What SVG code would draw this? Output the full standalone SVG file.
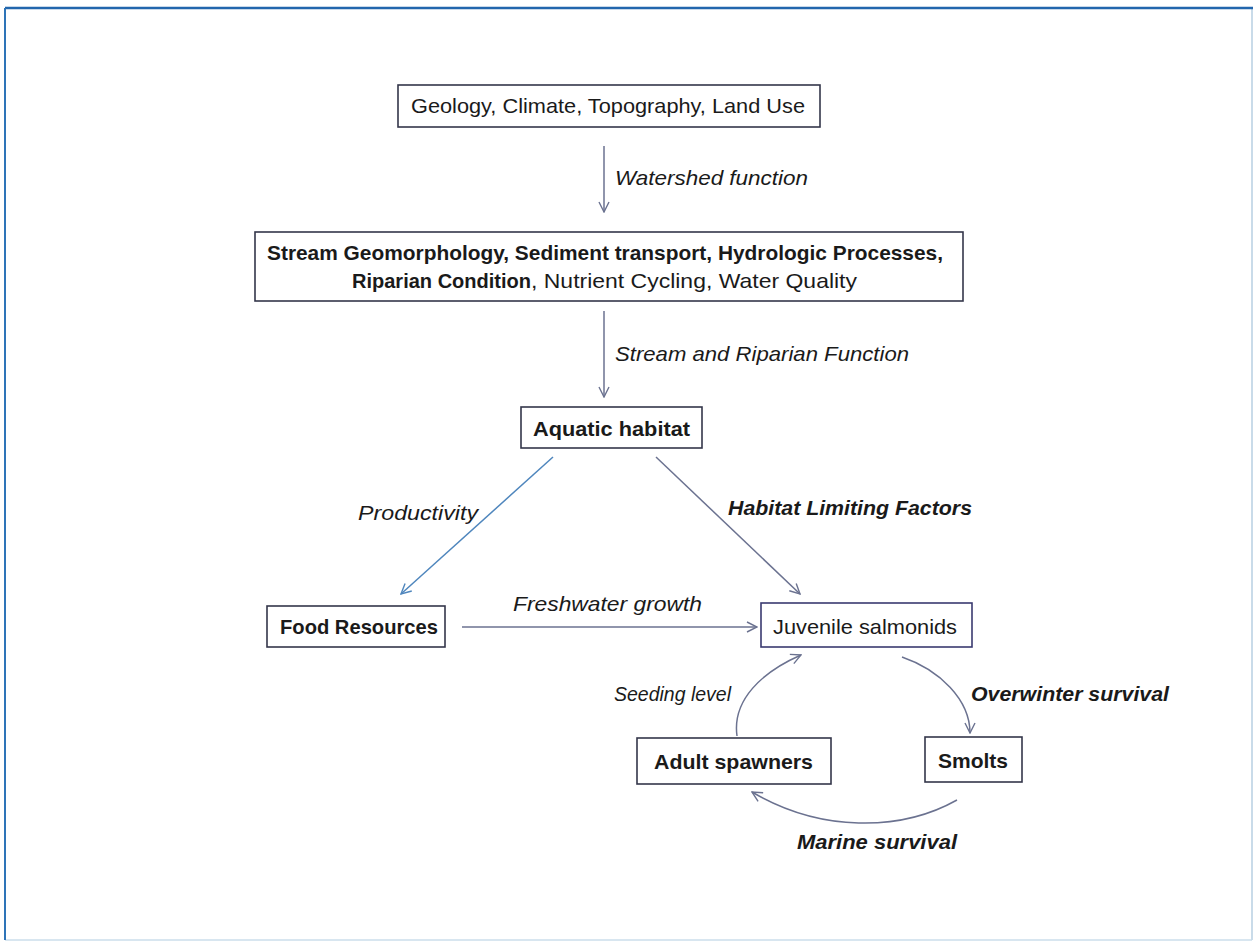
<svg xmlns="http://www.w3.org/2000/svg" width="1255" height="945" viewBox="0 0 1255 945">
<style>
.box{fill:#fff;stroke:#34364a;stroke-width:1.6}
.t{font-family:"Liberation Sans",Arial,sans-serif;font-size:21px;fill:#1a1a1a}
.b{font-weight:bold}
.i{font-style:italic}
.c{fill:none;stroke:#6b7290;stroke-width:1.5}
</style>
<defs>
<marker id="ah" viewBox="0 0 12 12" refX="11" refY="6" markerWidth="12" markerHeight="12" markerUnits="userSpaceOnUse" orient="auto">
<path d="M1,1 L11,6 L1,11" fill="none" stroke="#6b7290" stroke-width="1.4"/>
</marker>
<marker id="ahb" viewBox="0 0 12 12" refX="11" refY="6" markerWidth="12" markerHeight="12" markerUnits="userSpaceOnUse" orient="auto">
<path d="M1,1 L11,6 L1,11" fill="none" stroke="#4f86bd" stroke-width="1.4"/>
</marker>
</defs>
<rect width="1255" height="945" fill="#fff"/>
<g id="frame">
<line x1="5" y1="940" x2="1252" y2="940" stroke="#d8e6f0" stroke-width="2"/>
<line x1="1252" y1="8" x2="1252" y2="940" stroke="#c9dbe9" stroke-width="2"/>
<line x1="5" y1="8" x2="1253" y2="8" stroke="#2266ad" stroke-width="2.5"/>
<line x1="5" y1="8" x2="5" y2="940" stroke="#2e74b8" stroke-width="2"/>
</g>
<g id="connectors">
<line class="c" x1="604" y1="146" x2="604" y2="212" marker-end="url(#ah)"/>
<line class="c" x1="604" y1="311" x2="604" y2="397" marker-end="url(#ah)"/>
<line class="c" x1="553" y1="457" x2="401" y2="594" style="stroke:#4f86bd" marker-end="url(#ahb)"/>
<line class="c" x1="656" y1="457" x2="800" y2="594" marker-end="url(#ah)"/>
<line class="c" x1="462" y1="627" x2="757" y2="627" marker-end="url(#ah)"/>
<path class="c" d="M737,736 C732,700 762,672 801,655" marker-end="url(#ah)"/>
<path class="c" d="M902,657 C940,670 970,700 970,733" marker-end="url(#ah)"/>
<path class="c" d="M957,800 C900,832 820,832 752,792" marker-end="url(#ah)"/>
<text class="t i" x="615" y="185" textLength="193" lengthAdjust="spacingAndGlyphs">Watershed function</text>
<text class="t i" x="615" y="361" textLength="294" lengthAdjust="spacingAndGlyphs">Stream and Riparian Function</text>
<text class="t i" x="358" y="520" textLength="120" lengthAdjust="spacingAndGlyphs">Productivity</text>
<text class="t i b" x="728" y="515" textLength="244" lengthAdjust="spacingAndGlyphs">Habitat Limiting Factors</text>
<text class="t i" x="513" y="611" textLength="189" lengthAdjust="spacingAndGlyphs">Freshwater growth</text>
<text class="t i" x="614" y="701" textLength="117" lengthAdjust="spacingAndGlyphs">Seeding level</text>
<text class="t i b" x="971" y="701" textLength="198" lengthAdjust="spacingAndGlyphs">Overwinter survival</text>
<text class="t i b" x="797" y="849" textLength="160" lengthAdjust="spacingAndGlyphs">Marine survival</text>
</g>
<g id="n-drivers">
<rect class="box" x="398" y="85" width="422" height="42"/>
<text class="t" x="411" y="113" textLength="394" lengthAdjust="spacingAndGlyphs">Geology, Climate, Topography, Land Use</text>
</g>
<g id="n-processes">
<rect class="box" x="255" y="232" width="708" height="69"/>
<text class="t b" x="267" y="260" textLength="676" lengthAdjust="spacingAndGlyphs">Stream Geomorphology, Sediment transport, Hydrologic Processes,</text>
<text class="t b" x="352" y="288" textLength="179" lengthAdjust="spacingAndGlyphs">Riparian Condition</text>
<text class="t" x="531" y="288" textLength="326" lengthAdjust="spacingAndGlyphs">, Nutrient Cycling, Water Quality</text>
</g>
<g id="n-habitat">
<rect class="box" x="521" y="407" width="181" height="41"/>
<text class="t b" x="533" y="436" textLength="157" lengthAdjust="spacingAndGlyphs">Aquatic habitat</text>
</g>
<g id="n-food">
<rect class="box" x="267" y="606" width="178" height="41"/>
<text class="t b" x="280" y="634" textLength="158" lengthAdjust="spacingAndGlyphs">Food Resources</text>
</g>
<g id="n-juvenile">
<rect class="box" x="761" y="603" width="211" height="44" style="stroke:#3a3a70"/>
<text class="t" x="773" y="634" textLength="184" lengthAdjust="spacingAndGlyphs">Juvenile salmonids</text>
</g>
<g id="n-adults">
<rect class="box" x="637" y="738" width="194" height="46"/>
<text class="t b" x="654" y="769" textLength="159" lengthAdjust="spacingAndGlyphs">Adult spawners</text>
</g>
<g id="n-smolts">
<rect class="box" x="925" y="737" width="97" height="45"/>
<text class="t b" x="938" y="768" textLength="70" lengthAdjust="spacingAndGlyphs">Smolts</text>
</g>
</svg>
